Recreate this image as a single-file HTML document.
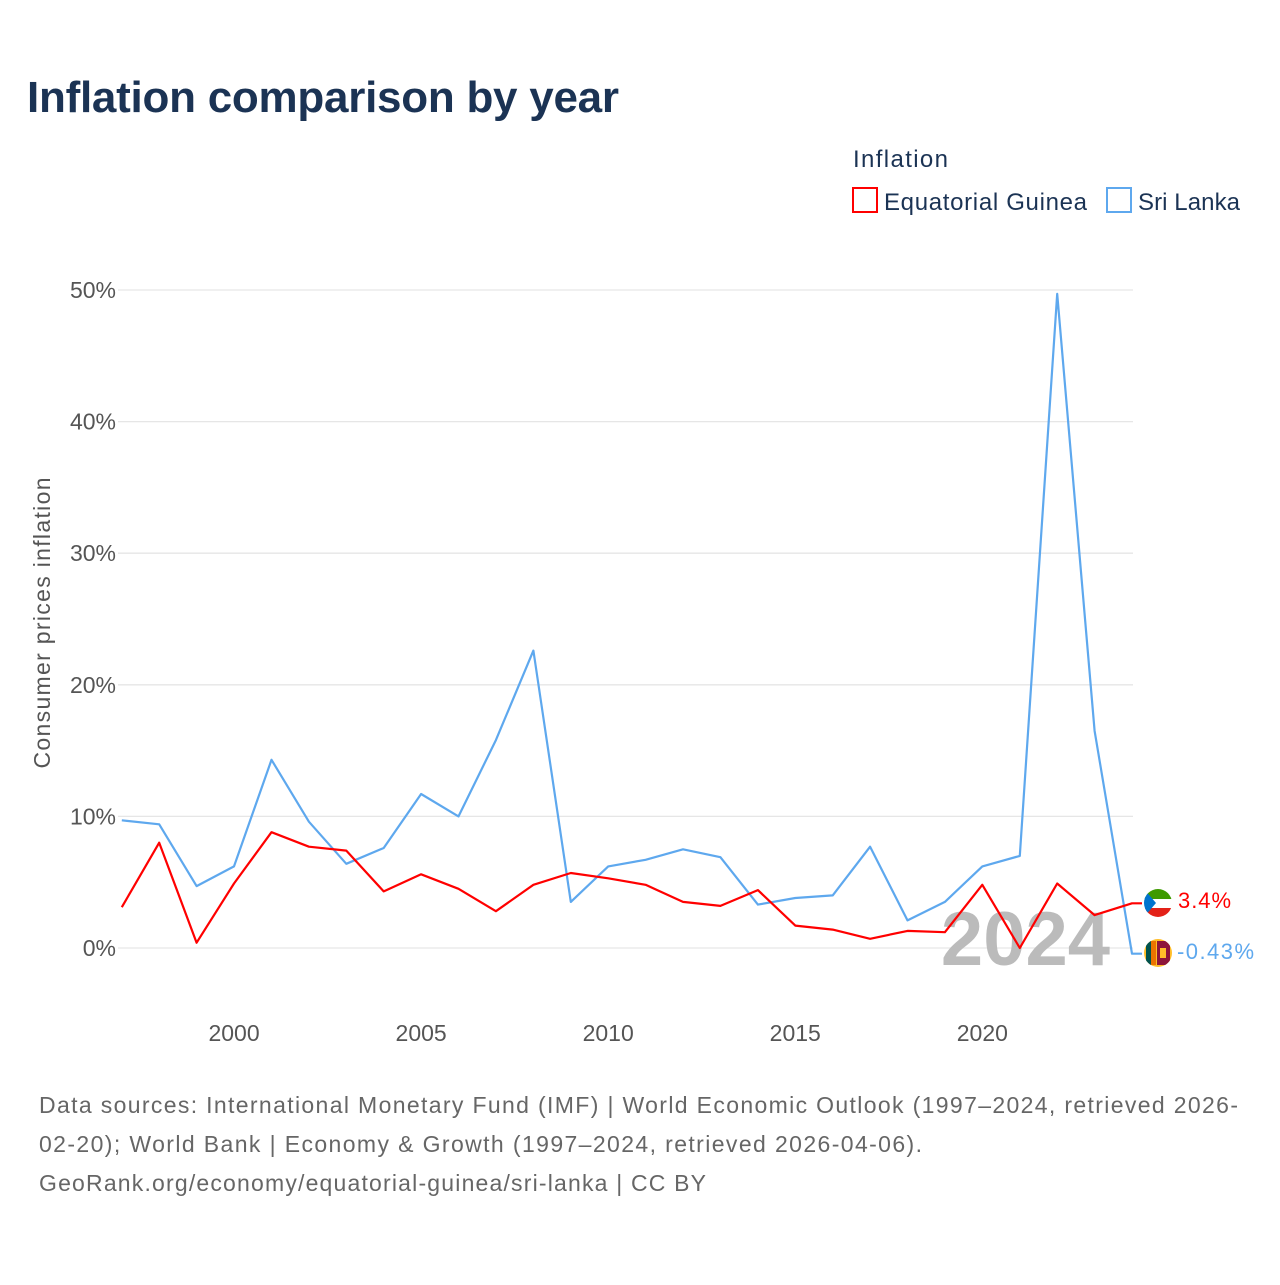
<!DOCTYPE html>
<html><head><meta charset="utf-8">
<style>
body{margin:0;background:#fff;font-family:"Liberation Sans",sans-serif;}
svg text{font-family:"Liberation Sans",sans-serif;}
</style></head>
<body>
<svg id="chart" width="1280" height="1280" xmlns="http://www.w3.org/2000/svg">
<text x="27" y="112" font-size="44" font-weight="bold" fill="#1b3354" textLength="592">Inflation comparison by year</text>
<text x="853" y="167" font-size="24" fill="#1b3354" textLength="95">Inflation</text>
<g>
<rect x="853" y="188" width="24" height="24" fill="none" stroke="#ff0000" stroke-width="2"/>
<text x="884" y="210" font-size="24" fill="#1b3354" textLength="203">Equatorial Guinea</text></g>
<g>
<rect x="1107" y="188" width="24" height="24" fill="none" stroke="#5ea8ee" stroke-width="2"/>
<text x="1138" y="210" font-size="24" fill="#1b3354" textLength="102">Sri Lanka</text></g>
<g id="grid"></g>
<g id="xaxis"></g>
<text transform="translate(50,623) rotate(-90)" text-anchor="middle" font-size="23" fill="#555" textLength="291">Consumer prices inflation</text>
<text x="1110" y="965" text-anchor="end" font-size="76" font-weight="bold" fill="#bbbbbb">2024</text>
<g id="series"></g>
<g>
<clipPath id="c1"><circle cx="1158" cy="903" r="14"/></clipPath>
<g clip-path="url(#c1)"><rect x="1144" y="889" width="28" height="10" fill="#3e9a00"/><rect x="1144" y="899" width="28" height="9" fill="#fff"/><rect x="1144" y="908" width="28" height="10" fill="#e32118"/><polygon points="1144,889 1156,903 1144,917" fill="#0073ce"/></g></g>
<g>
<clipPath id="c2"><circle cx="1158" cy="953" r="14"/></clipPath>
<g clip-path="url(#c2)"><rect x="1144" y="939" width="28" height="28" fill="#ffbe29"/><rect x="1146" y="941" width="5" height="24" fill="#00534e"/><rect x="1151" y="941" width="5" height="24" fill="#eb7400"/><rect x="1157" y="941" width="13" height="24" fill="#8d153a"/><rect x="1160" y="948" width="6" height="10" fill="#ffbe29"/></g></g>
<text x="1178" y="908" font-size="22" fill="#ff0000" textLength="53">3.4%</text>
<text x="1177" y="959" font-size="22" fill="#5ea8ee" textLength="77">-0.43%</text>
<g font-size="23" fill="#666">
<text x="39" y="1113" textLength="1199">Data sources: International Monetary Fund (IMF) | World Economic Outlook (1997–2024, retrieved 2026-</text>
<text x="39" y="1152" textLength="883">02-20); World Bank | Economy &amp; Growth (1997–2024, retrieved 2026-04-06).</text>
<text x="39" y="1191" textLength="667">GeoRank.org/economy/equatorial-guinea/sri-lanka | CC BY</text>
</g>
</svg>
<script>
const years=[1997,1998,1999,2000,2001,2002,2003,2004,2005,2006,2007,2008,2009,2010,2011,2012,2013,2014,2015,2016,2017,2018,2019,2020,2021,2022,2023,2024];
const sriLanka=[9.7,9.4,4.7,6.2,14.3,9.6,6.4,7.6,11.7,10.0,15.8,22.6,3.5,6.2,6.7,7.5,6.9,3.3,3.8,4.0,7.7,2.1,3.5,6.2,7.0,49.7,16.5,-0.43];
const eqGuinea=[3.1,8.0,0.4,4.9,8.8,7.7,7.4,4.3,5.6,4.5,2.8,4.8,5.7,5.3,4.8,3.5,3.2,4.4,1.7,1.4,0.7,1.3,1.2,4.8,0.0,4.9,2.5,3.4];
const yTicks=[0,10,20,30,40,50];
const xTicks=[2000,2005,2010,2015,2020];
const NS="http://www.w3.org/2000/svg";
const xs=y=>121.8+(y-1997)*(1132-121.8)/27;
const ys=v=>948-v*13.16;
const grid=document.getElementById('grid');
yTicks.forEach(t=>{
 const l=document.createElementNS(NS,'line');
 l.setAttribute('x1',118);l.setAttribute('x2',1133);l.setAttribute('y1',ys(t));l.setAttribute('y2',ys(t));
 l.setAttribute('stroke','#e6e6e6');l.setAttribute('stroke-width','1.3');
 
 
 grid.appendChild(l);
 const tx=document.createElementNS(NS,'text');
 tx.setAttribute('x',116);tx.setAttribute('y',ys(t)+8);tx.setAttribute('text-anchor','end');
 tx.setAttribute('font-size','23');tx.setAttribute('fill','#555');tx.textContent=t+'%';
 
 
 grid.appendChild(tx);
});
const xa=document.getElementById('xaxis');
xTicks.forEach(t=>{
 const tx=document.createElementNS(NS,'text');
 tx.setAttribute('x',xs(t));tx.setAttribute('y',1041);tx.setAttribute('text-anchor','middle');
 tx.setAttribute('font-size','23');tx.setAttribute('fill','#555');tx.textContent=t;
 
 
 xa.appendChild(tx);
});
const sg=document.getElementById('series');
function line(vals,color,name){
 const p=document.createElementNS(NS,'polyline');
 let pts=vals.map((v,i)=>xs(years[i]).toFixed(1)+','+ys(v).toFixed(1));
 pts.push((xs(years[years.length-1])+10)+','+ys(vals[vals.length-1]).toFixed(1));
 p.setAttribute('points',pts.join(' '));
 p.setAttribute('fill','none');p.setAttribute('stroke',color);p.setAttribute('stroke-width','2.2');
 p.setAttribute('stroke-linejoin','round');
 
 
 sg.appendChild(p);
}
line(sriLanka,'#5ea8ee','series-line-sri-lanka');
line(eqGuinea,'#ff0000','series-line-equatorial-guinea');
</script>
</body></html>
